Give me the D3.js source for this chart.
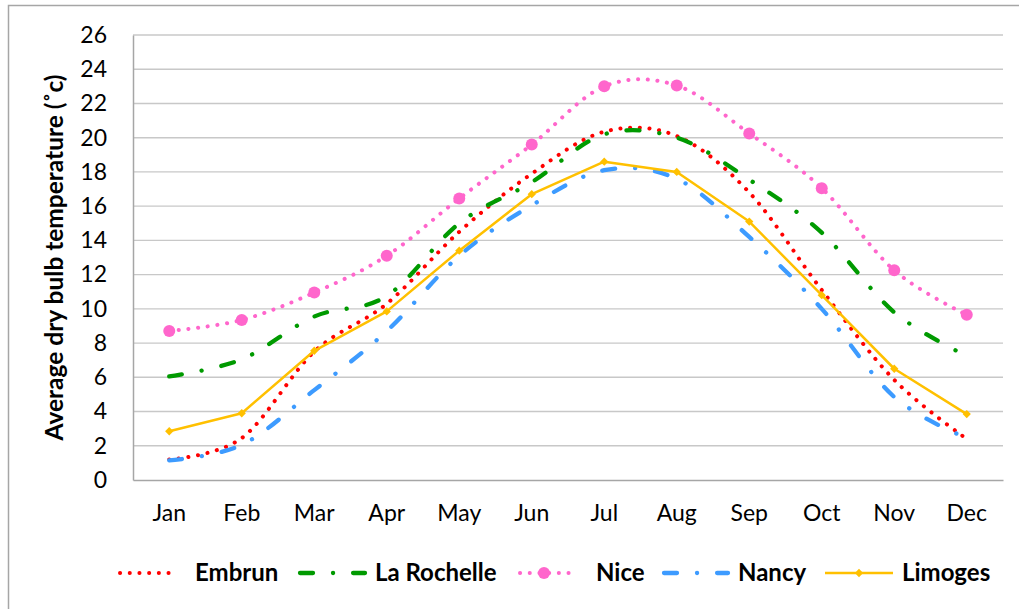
<!DOCTYPE html>
<html>
<head>
<meta charset="utf-8">
<script src="https://cdn.jsdelivr.net/npm/d3@7"></script>
<style>
  html, body { margin: 0; padding: 0; background: #fff; }
  svg { display: block; }
  text { font-family: Lato, "Open Sans", sans-serif; fill: #000; }
</style>
</head>
<body>
<svg id="chart" width="1019" height="609"></svg>
<script>
// ---- data ----
const months = ["Jan","Feb","Mar","Apr","May","Jun","Jul","Aug","Sep","Oct","Nov","Dec"];
const yTicks = [0,2,4,6,8,10,12,14,16,18,20,22,24,26];
const embrun     = [1.2, 2.45, 7.5, 10.3, 14.5, 17.9, 20.35, 20.1, 16.8, 11.1, 5.85, 2.4];
const laRochelle = [6.05, 7.05, 9.55, 10.75, 15.0, 17.4, 20.2, 20.0, 17.55, 14.45, 9.8, 7.25];
const nice       = [8.7, 9.35, 10.95, 13.1, 16.45, 19.6, 23.0, 23.05, 20.25, 17.05, 12.25, 9.65];
const nancy      = [1.15, 2.05, 5.25, 8.7, 13.1, 16.05, 18.1, 17.6, 14.2, 10.0, 4.85, 2.45];
const limoges    = [2.85, 3.9, 7.55, 9.85, 13.4, 16.7, 18.6, 18.0, 15.1, 10.8, 6.5, 3.85];
const seriesNames = ["Embrun","La Rochelle","Nice","Nancy","Limoges"];
const yTitle = "Average dry bulb temperature (˚c)";

// ---- styles ----
const styles = {
  "Embrun":      {color:"#FF0000", width:4,   dash:"0.1 9.6", smooth:true,  marker:null},
  "La Rochelle": {color:"#009A00", width:4.3, dash:"13 20 0.1 20", smooth:true, marker:null},
  "Nice":        {color:"#FF66CC", width:4,   dash:"0.1 9.6", smooth:true,  marker:"circle"},
  "Nancy":       {color:"#3D9BFF", width:4.3, dash:"13 20 0.1 20", smooth:true, marker:null},
  "Limoges":     {color:"#FFC000", width:2.5, dash:null,      smooth:false, marker:"diamond"}
};
const seriesData = {"Embrun":embrun,"La Rochelle":laRochelle,"Nice":nice,"Nancy":nancy,"Limoges":limoges};

const svg = d3.select("#chart");
const L = 133, R = 1003, T = 35, B = 480;

// outer chart border
svg.append("path").attr("d", `M8.5,609 V5.5 H1019`)
  .attr("fill","none").attr("stroke","#A6A6A6").attr("stroke-width",1.5);

const x = d3.scaleBand().domain(months).range([L, R]);
const cx = m => x(m) + x.bandwidth()/2;
const y = d3.scaleLinear().domain([0, 26]).range([B, T]);

// gridlines
svg.append("g").selectAll("line").data(yTicks.filter(t => t > 0)).join("line")
  .attr("x1", L).attr("x2", R).attr("y1", d => y(d)).attr("y2", d => y(d))
  .attr("stroke", "#C8C8C8").attr("stroke-width", 1.4);

// y axis
const yAxis = svg.append("g").attr("transform", `translate(${L},0)`)
  .call(d3.axisLeft(y).tickValues(yTicks).tickSize(0).tickPadding(26));
yAxis.select(".domain").attr("stroke", "#A6A6A6").attr("stroke-width", 1.5);
yAxis.selectAll("text").style("font-size", "23px").style("font-family", "Lato").attr("fill", "#000");

// x axis
const xAxis = svg.append("g").attr("transform", `translate(0,${B})`)
  .call(d3.axisBottom(x).tickSize(0).tickPadding(25));
xAxis.select(".domain").attr("stroke", "#A6A6A6").attr("stroke-width", 1.5);
xAxis.selectAll("text").style("font-size", "23px").style("font-family", "Lato").attr("fill", "#000");

// y title
svg.append("text")
  .attr("transform", `translate(63,${(T+B)/2}) rotate(-90)`)
  .attr("text-anchor", "middle")
  .style("font-size", "24.5px").style("font-weight", "bold")
  .text(yTitle);

// lines
const plot = svg.append("g");
seriesNames.forEach(name => {
  const st = styles[name];
  const vals = seriesData[name];
  const line = d3.line()
    .x((d, i) => cx(months[i]))
    .y(d => y(d))
    .curve(st.smooth ? d3.curveCardinal.tension(0) : d3.curveLinear);
  plot.append("path").datum(vals)
    .attr("d", line)
    .attr("fill", "none")
    .attr("stroke", st.color)
    .attr("stroke-width", st.width)
    .attr("stroke-linecap", st.dash ? "round" : "butt")
    .attr("stroke-linejoin", "round")
    .attr("stroke-dasharray", st.dash);
  if (st.marker === "circle") {
    plot.append("g").selectAll("circle").data(vals).join("circle")
      .attr("cx", (d, i) => cx(months[i])).attr("cy", d => y(d))
      .attr("r", 6).attr("fill", st.color);
  } else if (st.marker === "diamond") {
    plot.append("g").selectAll("path").data(vals).join("path")
      .attr("transform", (d, i) => `translate(${cx(months[i])},${y(d)})`)
      .attr("d", d3.symbol(d3.symbolDiamond2, 44)).attr("fill", st.color);
  }
});

// legend
const legendY = 573;
const legendPos = {
  "Embrun":      {x0:118, x1:177, tx:195},
  "La Rochelle": {x0:298, x1:367, tx:375},
  "Nice":        {x0:518, x1:580, tx:596},
  "Nancy":       {x0:662, x1:730, tx:738},
  "Limoges":     {x0:825, x1:893, tx:902}
};
const lg = svg.append("g");
seriesNames.forEach(name => {
  const st = styles[name], p = legendPos[name];
  lg.append("line")
    .attr("x1", p.x0 + (st.dash ? 2 : 0)).attr("x2", p.x1 - (st.dash ? 2 : 0))
    .attr("y1", legendY).attr("y2", legendY)
    .attr("stroke", st.color).attr("stroke-width", st.width)
    .attr("stroke-linecap", st.dash ? "round" : "butt")
    .attr("stroke-dasharray", st.dash);
  const mx = (p.x0 + p.x1) / 2;
  if (st.marker === "circle") {
    lg.append("circle").attr("cx", mx - 5).attr("cy", legendY).attr("r", 6).attr("fill", st.color);
  } else if (st.marker === "diamond") {
    lg.append("path").attr("transform", `translate(${mx},${legendY})`)
      .attr("d", d3.symbol(d3.symbolDiamond2, 44)).attr("fill", st.color);
  }
  lg.append("text").attr("x", p.tx).attr("y", legendY).attr("dy", "0.35em")
    .style("font-size", "24px").style("font-weight", "bold").text(name);
});
</script>
</body>
</html>
